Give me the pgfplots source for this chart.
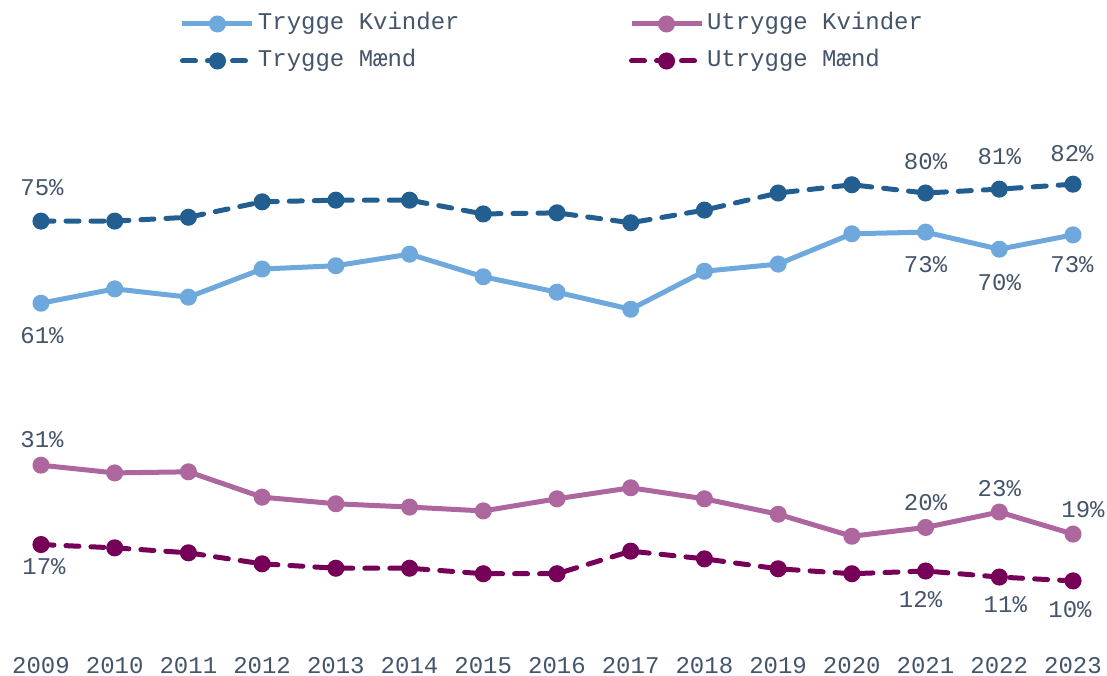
\documentclass[border=0pt]{standalone}
\usepackage{fontspec}
\setmainfont{Liberation Mono}
\usepackage{pgfplots}
\pgfplotsset{compat=1.18}
\definecolor{tk}{RGB}{111,168,220}
\definecolor{tm}{RGB}{35,94,145}
\definecolor{uk}{RGB}{173,102,158}
\definecolor{um}{RGB}{118,0,88}
\definecolor{txt}{RGB}{68,84,106}
\tikzset{lbl/.style={font=\fontsize{12}{14}\selectfont, text=txt, inner sep=0pt}}
\begin{document}
\begin{tikzpicture}
\useasboundingbox (0,0) rectangle (553.5pt,337.5pt);
\begin{axis}[
  at={(0,0)}, anchor=south west,
  scale only axis, width=553.5pt, height=337.5pt,
  xmin=2008.444, xmax=2023.461, ymin=-7.078, ymax=115.43,
  axis line style={draw=none},
  ytick=\empty, xtick={2009,...,2023}, major tick length=0pt,
  xticklabel={\pgfmathprintnumber[assume math mode=true,1000 sep={}]{\tick}},
  xticklabel style={anchor=base, yshift=1pt, font=\fontsize{12}{14}\selectfont, text=txt},
  clip=false,
  legend columns=2,
  legend cell align=left,
  legend style={at={(axis description cs:0.1626,1)}, anchor=north west, yshift=-6pt,
    draw=none, fill=none, inner sep=0pt, outer sep=0pt,
    font=\fontsize{12}{14}\selectfont, text=txt,
    nodes={inner sep=0pt, text height=9pt, text depth=3pt},
    row sep=6.5pt,
    /tikz/every odd column/.append style={column sep=1.5pt},
    /tikz/every even column/.append style={column sep=84.7pt}},
  legend image code/.code={\draw[#1, mark repeat=2, mark phase=2] plot coordinates {(0pt,0pt) (17.5pt,0pt) (35pt,0pt)};},
]
\addplot[color=tk, line width=2.5pt, line join=round, mark=*, mark size=3pt, mark options={solid}] coordinates {
(2009,60.4)(2010,63.0)(2011,61.5)(2012,66.6)(2013,67.2)(2014,69.3)(2015,65.2)(2016,62.4)(2017,59.3)(2018,66.2)(2019,67.5)(2020,73.0)(2021,73.3)(2022,70.2)(2023,72.8)};
\addlegendentry{Trygge Kvinder}
\addplot[color=uk, line width=2.5pt, line join=round, mark=*, mark size=3pt, mark options={solid}] coordinates {
(2009,31.0)(2010,29.6)(2011,29.8)(2012,25.2)(2013,24.0)(2014,23.4)(2015,22.7)(2016,24.9)(2017,26.9)(2018,24.9)(2019,22.1)(2020,18.1)(2021,19.7)(2022,22.5)(2023,18.5)};
\addlegendentry{Utrygge Kvinder}
\addplot[color=tm, line width=2.5pt, line cap=round, dash pattern=on 6.5pt off 6pt, mark=*, mark size=3pt, mark options={solid}] coordinates {
(2009,75.3)(2010,75.3)(2011,76.0)(2012,78.8)(2013,79.1)(2014,79.1)(2015,76.6)(2016,76.8)(2017,75.0)(2018,77.3)(2019,80.4)(2020,81.9)(2021,80.4)(2022,81.1)(2023,82.0)};
\addlegendentry{Trygge Mænd}
\addplot[color=um, line width=2.5pt, line cap=round, dash pattern=on 6.5pt off 6pt, mark=*, mark size=3pt, mark options={solid}] coordinates {
(2009,16.6)(2010,16.0)(2011,15.1)(2012,13.1)(2013,12.3)(2014,12.3)(2015,11.3)(2016,11.3)(2017,15.4)(2018,14.0)(2019,12.2)(2020,11.3)(2021,11.8)(2022,10.7)(2023,10.0)};
\addlegendentry{Utrygge Mænd}
% data labels
\node[lbl, xshift=0.5pt, yshift=16.5pt] at (axis cs:2009,75.3) {75\%};
\node[lbl, xshift=0.5pt, yshift=-16pt] at (axis cs:2009,60.4) {61\%};
\node[lbl, yshift=15.5pt] at (axis cs:2021,80.4) {80\%};
\node[lbl, yshift=16.5pt] at (axis cs:2022,81.1) {81\%};
\node[lbl, xshift=-0.5pt, yshift=15.5pt] at (axis cs:2023,82.0) {82\%};
\node[lbl, yshift=-16pt] at (axis cs:2021,73.3) {73\%};
\node[lbl, yshift=-16.5pt] at (axis cs:2022,70.2) {70\%};
\node[lbl, xshift=-0.5pt, yshift=-15pt] at (axis cs:2023,72.8) {73\%};
\node[lbl, xshift=0.5pt, yshift=13pt] at (axis cs:2009,31.0) {31\%};
\node[lbl, yshift=12.5pt] at (axis cs:2021,19.7) {20\%};
\node[lbl, yshift=11.5pt] at (axis cs:2022,22.5) {23\%};
\node[lbl, xshift=5pt, yshift=12pt] at (axis cs:2023,18.5) {19\%};
\node[lbl, xshift=1.5pt, yshift=-11pt] at (axis cs:2009,16.6) {17\%};
\node[lbl, xshift=-2.5pt, yshift=-14.5pt] at (axis cs:2021,11.8) {12\%};
\node[lbl, xshift=3pt, yshift=-14pt] at (axis cs:2022,10.7) {11\%};
\node[lbl, xshift=-1.5pt, yshift=-14.5pt] at (axis cs:2023,10.0) {10\%};
\end{axis}
\end{tikzpicture}
\end{document}
